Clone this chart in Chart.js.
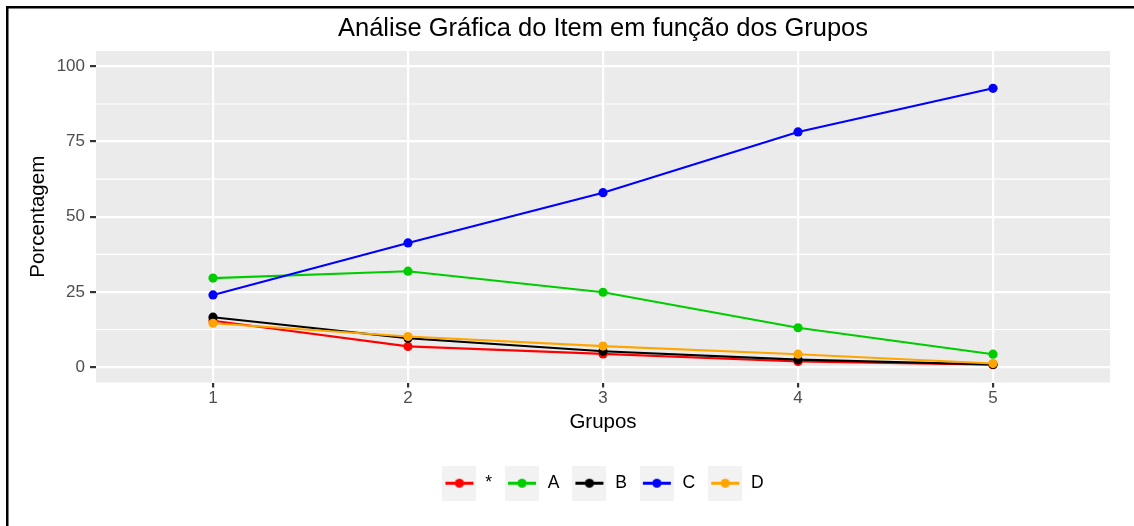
<!DOCTYPE html>
<html>
<head>
<meta charset="utf-8">
<script src="https://cdn.jsdelivr.net/npm/chart.js@4.4.1/dist/chart.umd.min.js"></script>
<style>
html,body{margin:0;padding:0;background:#fff;}
canvas{display:block;}
</style>
</head>
<body>
<canvas id="c" width="1134" height="526"></canvas>
<script>
const titleText = 'Análise Gráfica do Item em função dos Grupos';
const xTitle = 'Grupos';
const yTitle = 'Porcentagem';
const groups = [1, 2, 3, 4, 5];
const xTickLabels = ['1', '2', '3', '4', '5'];
const yTicks = [0, 25, 50, 75, 100];
const yMinorTicks = [12.5, 37.5, 62.5, 87.5];
const seriesNames = ['*', 'A', 'B', 'C', 'D'];
const seriesColors = ['#FF0000', '#00CD00', '#000000', '#0000FF', '#FFA500'];
const valuesStar = [15.4, 6.9, 4.4, 1.9, 0.8];
const valuesA = [29.6, 31.9, 24.9, 13.1, 4.3];
const valuesB = [16.6, 9.6, 5.3, 2.5, 0.9];
const valuesC = [24.0, 41.3, 58.0, 78.2, 92.7];
const valuesD = [14.6, 10.2, 7.0, 4.3, 1.2];
const seriesValues = [valuesStar, valuesA, valuesB, valuesC, valuesD];

const FONT = "'Liberation Sans', Arial, sans-serif";
Chart.defaults.font.family = FONT;

function makeKey(color) {
  const cv = document.createElement('canvas');
  cv.width = 34; cv.height = 35;
  const g = cv.getContext('2d');
  g.fillStyle = '#f2f2f2';
  g.fillRect(0, 0, 34, 35);
  g.strokeStyle = color;
  g.lineWidth = 3;
  g.beginPath(); g.moveTo(3, 17.5); g.lineTo(31, 17.5); g.stroke();
  g.fillStyle = color;
  g.beginPath(); g.arc(17, 17.5, 4.6, 0, Math.PI * 2); g.fill();
  return cv;
}
const keys = seriesColors.map(makeKey);

const datasets = seriesNames.map((name, i) => ({
  label: name,
  data: groups.map((g, j) => ({x: g, y: seriesValues[i][j]})),
  borderColor: seriesColors[i],
  backgroundColor: seriesColors[i],
  borderWidth: 2.1,
  pointRadius: 4.6,
  pointHoverRadius: 4.6,
  pointBorderWidth: 0,
  tension: 0,
  order: seriesNames.length - i
}));

const panelPlugin = {
  id: 'panel',
  beforeDraw(chart) {
    const ctx = chart.ctx, a = chart.chartArea;
    ctx.save();
    ctx.fillStyle = '#ffffff';
    ctx.fillRect(0, 0, chart.width, chart.height);
    ctx.fillStyle = '#ebebeb';
    ctx.fillRect(a.left, a.top, a.right - a.left, a.bottom - a.top);
    ctx.strokeStyle = '#ffffff';
    ctx.lineWidth = 1.1;
    const ys = chart.scales.y;
    yMinorTicks.forEach(v => {
      const p = ys.getPixelForValue(v);
      ctx.beginPath(); ctx.moveTo(a.left, p); ctx.lineTo(a.right, p); ctx.stroke();
    });
    ctx.restore();
  },
  afterDraw(chart) {
    const ctx = chart.ctx;
    ctx.save();
    ctx.fillStyle = '#000000';
    ctx.fillRect(6, 6, chart.width - 6, 2.5);
    ctx.fillRect(6, 6, 2.5, chart.height - 6);
    ctx.restore();
  }
};

new Chart(document.getElementById('c'), {
  type: 'line',
  data: {datasets},
  plugins: [panelPlugin],
  options: {
    responsive: false,
    animation: false,
    devicePixelRatio: 1,
    layout: {padding: {left: 0, right: 24, top: 0, bottom: 24}},
    plugins: {
      tooltip: {enabled: false},
      title: {
        display: true,
        text: titleText,
        fullSize: false,
        color: '#000000',
        font: {size: 25.5, weight: 'normal', family: FONT},
        padding: {top: 13.2, bottom: 7.2}
      },
      legend: {
        display: true,
        position: 'bottom',
        fullSize: false,
        align: 'center',
        labels: {
          usePointStyle: true,
          pointStyleWidth: 34,
          padding: 13,
          color: '#000000',
          font: {size: 17.5, family: FONT},
          generateLabels: () => seriesNames.map((n, i) => ({
            text: n,
            fillStyle: seriesColors[i],
            strokeStyle: seriesColors[i],
            lineWidth: 0,
            pointStyle: keys[i],
            hidden: false,
            datasetIndex: i,
            fontColor: '#000000'
          }))
        }
      }
    },
    scales: {
      x: {
        type: 'linear',
        min: 0.4,
        max: 5.6,
        afterBuildTicks: s => { s.ticks = groups.map(v => ({value: v})); },
        afterFit: s => { s.height = 79; },
        border: {display: false},
        grid: {color: '#ffffff', lineWidth: 2.2, drawTicks: true, tickLength: 5, tickWidth: 2.2, tickColor: '#333333'},
        ticks: {
          color: '#4d4d4d', font: {size: 17, family: FONT}, padding: 1, maxRotation: 0,
          callback: (v) => { const k = groups.indexOf(v); return k >= 0 ? xTickLabels[k] : ''; }
        },
        title: {display: true, text: xTitle, color: '#000000', font: {size: 20.5, family: FONT}, padding: {top: 0, bottom: 26.4}}
      },
      y: {
        type: 'linear',
        min: -5.1,
        max: 105.1,
        afterBuildTicks: s => { s.ticks = yTicks.map(v => ({value: v})); },
        afterFit: s => { s.width = 96; },
        border: {display: false},
        grid: {color: '#ffffff', lineWidth: 2.2, drawTicks: true, tickLength: 6, tickWidth: 2.2, tickColor: '#333333'},
        ticks: {color: '#4d4d4d', font: {size: 17, family: FONT}, padding: 5},
        title: {display: true, text: yTitle, color: '#000000', font: {size: 20.5, family: FONT}, padding: {top: 25.7, bottom: 0}}
      }
    }
  }
});
</script>
</body>
</html>
